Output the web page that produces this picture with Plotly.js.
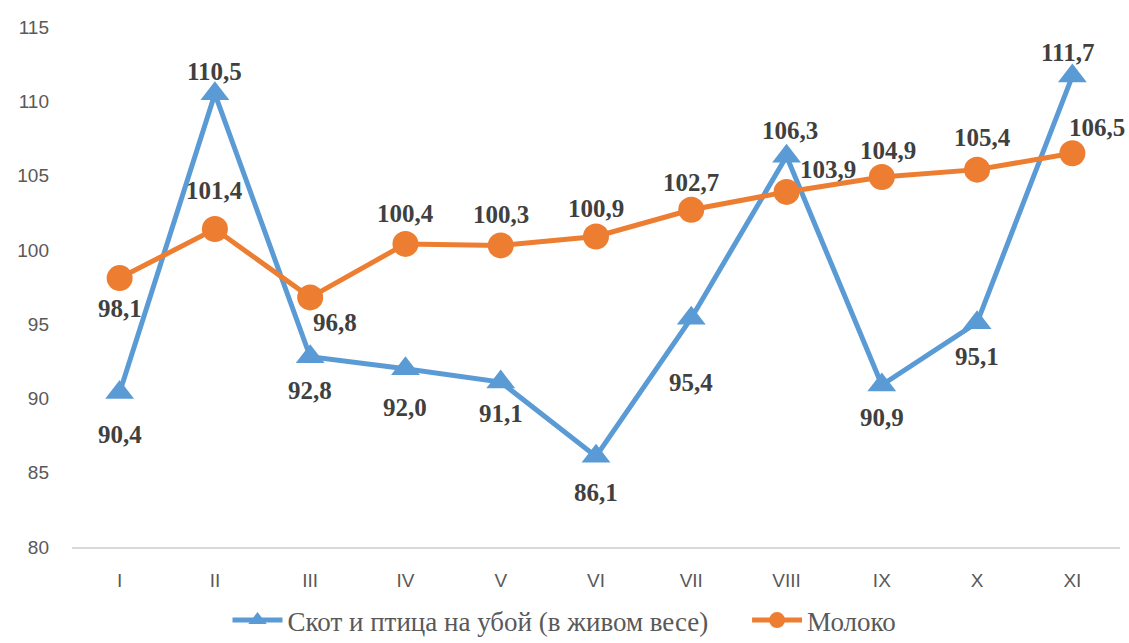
<!DOCTYPE html>
<html>
<head>
<meta charset="utf-8">
<script src="https://cdn.plot.ly/plotly-3.0.1.min.js"></script>
<style>html,body{margin:0;padding:0;background:#fff;}#chart{width:1129px;height:643px;}</style>
</head>
<body>
<div id="chart"></div>
<script>
const categories = ["I","II","III","IV","V","VI","VII","VIII","IX","X","XI"];
const livestock = [90.4,110.5,92.8,92.0,91.1,86.1,95.4,106.3,90.9,95.1,111.7];
const milk = [98.1,101.4,96.8,100.4,100.3,100.9,102.7,103.9,104.9,105.4,106.5];
const livestockName = "Скот и птица на убой (в живом весе)";
const milkName = "Молоко";
// label offsets (px) relative to each point
const livestockDx = [0,0,0,0,0,0,0,3,0,0,-4];
const livestockDy = [-42,22,-34,-39,-31,-36,-64,26,-32,-34,24];
const milkDx = [0,0,25,0,0,0,0,41,6,5,25];
const milkDy = [-30,39,-25,30,31,28,27,22,27,32,26];

const fmt = v => v.toFixed(1).replace(".", ",");
const labelFont = {family:"Liberation Serif, Times New Roman, serif", size:25, color:"#404040"};
const pad = "\u00a0\u00a0\u00a0\u00a0\u00a0";

const traces = [
  {
    x: categories, y: livestock, name: livestockName + pad, type: "scatter", mode: "lines+markers",
    line: {color:"#5B9BD5", width:5},
    marker: {symbol:"triangle-up", size:25, color:"#5B9BD5"}, cliponaxis:false
  },
  {
    x: categories, y: milk, name: milkName, type: "scatter", mode: "lines+markers",
    line: {color:"#ED7D31", width:5},
    marker: {symbol:"circle", size:26, color:"#ED7D31"}, cliponaxis:false
  }
];

const annotations = [];
categories.forEach((c, i) => {
  annotations.push({x:c, y:livestock[i], xref:"x", yref:"y", text:"<b>"+fmt(livestock[i])+"</b>",
    showarrow:false, xshift:livestockDx[i], yshift:livestockDy[i], font:labelFont});
  annotations.push({x:c, y:milk[i], xref:"x", yref:"y", text:"<b>"+fmt(milk[i])+"</b>",
    showarrow:false, xshift:milkDx[i], yshift:milkDy[i], font:labelFont});
});

const layout = {
  width:1129, height:643,
  margin:{l:72, r:9, t:27, b:96},
  paper_bgcolor:"#fff", plot_bgcolor:"#fff",
  showlegend:true,
  annotations: annotations,
  legend:{orientation:"h", xref:"container", yref:"container", x:0.5, xanchor:"center", y:0.035, yanchor:"middle",
    itemwidth:50,
    font:{family:"Liberation Serif, Times New Roman, serif", size:27, color:"#595959"}},
  xaxis:{type:"category", showgrid:false, showline:true, linecolor:"#D9D9D9", linewidth:1.5,
    ticks:"", zeroline:false, tickfont:{family:"Liberation Sans, Arial, sans-serif", size:19, color:"#595959"},
    range:[-0.5,10.5], ticklabelstandoff:16},
  yaxis:{range:[80,115], dtick:5, showgrid:false, zeroline:false, showline:false, ticks:"",
    tickfont:{family:"Liberation Sans, Arial, sans-serif", size:19, color:"#595959"}, ticklabelstandoff:22}
};

Plotly.newPlot("chart", traces, layout, {displayModeBar:false, staticPlot:true});
</script>
</body>
</html>
